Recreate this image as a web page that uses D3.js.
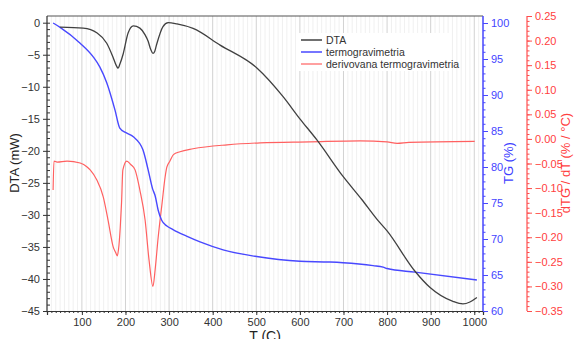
<!DOCTYPE html>
<html><head><meta charset="utf-8">
<script src="https://cdn.jsdelivr.net/npm/d3@7"></script>
<style>body{margin:0;background:#fff}svg{display:block;font-family:"Liberation Sans",Arial,sans-serif}</style>
</head><body><svg id="c" width="574" height="339"></svg>
<script>
// ---- data ----
const dtaT = [50,103,135,157,171,179,183,187,195,206,218,233,245,252,258,263,267,271,286,298,318,355,417,502,561,600,639,699,742,777,800,864,898,951,974,990,1006];
const dtaV = [-0.7,-0.85,-1.6,-3.2,-5.3,-6.7,-7.1,-6.5,-4.8,-1.6,-0.5,-0.85,-1.9,-2.9,-4.2,-4.8,-4.5,-3.5,-0.6,0,-0.2,-0.9,-3.5,-7.1,-11.5,-15.0,-18.3,-24.0,-27.6,-30.7,-32.5,-38.8,-41.3,-43.5,-43.9,-43.6,-42.9];
const tgT = [34,50,96,126,141,157,176,187,200,218,240,252,262,268,275,283,295,309,340,371,424,497,600,669,699,768,791,800,864,1006];
const tgV = [100,99.4,97.2,95.3,93.9,91.7,87.9,85.4,84.8,84.2,82.4,79.6,77,76.0,74.0,72.6,71.8,71.3,70.4,69.6,68.5,67.6,66.9,66.8,66.7,66.3,66.1,65.9,65.4,64.3];
const dtgT = [34,36,43,66,96,112,119,134,149,160,172,178,181,184,188,191,194,203,212,222,233,245,254,263,268,275,284,291,295,302,310,325,355,433,509,623,738,800,823,850,1001];
const dtgV = [-0.104,-0.045,-0.047,-0.045,-0.049,-0.057,-0.063,-0.083,-0.118,-0.165,-0.22,-0.232,-0.238,-0.225,-0.18,-0.13,-0.063,-0.045,-0.052,-0.063,-0.104,-0.165,-0.246,-0.300,-0.266,-0.2,-0.13,-0.077,-0.057,-0.045,-0.032,-0.026,-0.02,-0.012,-0.008,-0.006,-0.004,-0.006,-0.009,-0.007,-0.005];
const xTicks = [100,200,300,400,500,600,700,800,900,1000];
const dtaTicks = [-45,-40,-35,-30,-25,-20,-15,-10,-5,0];
const tgTicks = [60,65,70,75,80,85,90,95,100];
const dtgTicks = [-0.35,-0.30,-0.25,-0.20,-0.15,-0.10,-0.05,0.00,0.05,0.10,0.15,0.20,0.25];
const legendNames = ["DTA","termogravimetria","derivovana termogravimetria"];

const svg = d3.select("#c");
const L=47, R=483, T=16, B=311;
const x = d3.scaleLinear().domain([20,1020]).range([L,R]);
const yD = d3.scaleLinear().domain([-45,0]).range([B,22.7]);
const yT = d3.scaleLinear().domain([60,100]).range([B,23]);
const yG = d3.scaleLinear().domain([-0.35,0.25]).range([B,T]);
const cBlack="#404040", cBlue="#4848ff", cRed="#ff6060";

// grid
const minorX = d3.range(20,1021,10);
svg.append("g").selectAll("line").data(minorX.filter(v=>v%100!==0)).join("line")
 .attr("x1",d=>x(d)).attr("x2",d=>x(d)).attr("y1",T).attr("y2",B).attr("stroke","#ececec").attr("stroke-width",0.8);
svg.append("g").selectAll("line").data(xTicks).join("line")
 .attr("x1",d=>x(d)).attr("x2",d=>x(d)).attr("y1",T).attr("y2",B).attr("stroke","#d2d2d2").attr("stroke-width",1);

// top frame
svg.append("line").attr("x1",L).attr("x2",R).attr("y1",T).attr("y2",T).attr("stroke","#555").attr("stroke-width",1.2);

// bottom axis
const gx = svg.append("g").attr("transform",`translate(0,${B})`)
 .call(d3.axisBottom(x).tickValues(xTicks).tickSize(4).tickFormat(d3.format("d")));
gx.append("g").call(d3.axisBottom(x).tickValues(minorX).tickSize(2).tickFormat(""));
gx.selectAll("path.domain").attr("stroke","#333").attr("stroke-width",1.2);
gx.selectAll("line").attr("stroke","#333");
gx.selectAll("text").attr("font-size",11).attr("fill","#333");

// left axis
const gl = svg.append("g").attr("transform",`translate(${L},0)`)
 .call(d3.axisLeft(yD).tickValues(dtaTicks).tickSize(4).tickFormat(d3.format("d")));
gl.append("g").call(d3.axisRight(yD).tickValues(d3.range(-45,1,1)).tickSize(3).tickFormat(""));
gl.selectAll("path.domain").remove();
gl.append("line").attr("y1",T).attr("y2",B).attr("stroke","#333").attr("stroke-width",1.2);
gl.selectAll("line").attr("stroke","#333");
gl.selectAll("text").attr("font-size",11).attr("fill","#333");

// right blue axis
const gb = svg.append("g").attr("transform",`translate(${R},0)`)
 .call(d3.axisRight(yT).tickValues(tgTicks).tickSize(5).tickFormat(d3.format("d")));
gb.append("g").call(d3.axisRight(yT).tickValues(d3.range(60,101,1)).tickSize(2.5).tickFormat(""));
gb.selectAll("path.domain").remove();
gb.append("line").attr("y1",T).attr("y2",B).attr("stroke",cBlue).attr("stroke-width",1.5);
gb.selectAll("line").attr("stroke",cBlue);
gb.selectAll("text").attr("font-size",11).attr("fill","#4444ff");

// right red axis
const XR = 527;
const gr = svg.append("g").attr("transform",`translate(${XR},0)`)
 .call(d3.axisRight(yG).tickValues(dtgTicks).tickSize(5).tickFormat(d3.format(".2f")));
gr.append("g").call(d3.axisRight(yG).tickValues(d3.range(-35,26,1).map(v=>v/100)).tickSize(2.5).tickFormat(""));
gr.selectAll("path.domain").remove();
gr.append("line").attr("y1",T).attr("y2",B).attr("stroke","#ff4d4d").attr("stroke-width",1.2);
gr.selectAll("line").attr("stroke","#ff4d4d");
gr.selectAll("text").attr("font-size",11).attr("fill","#ff4040");

// axis titles
svg.append("text").attr("transform","translate(19,163) rotate(-90)").attr("text-anchor","middle")
 .attr("font-size",13).attr("fill","#222").text("DTA (mW)");
svg.append("text").attr("transform","translate(513,163) rotate(-90)").attr("text-anchor","middle")
 .attr("font-size",13).attr("fill","#4040ff").text("TG (%)");
svg.append("text").attr("transform","translate(570,163) rotate(-90)").attr("text-anchor","middle")
 .attr("font-size",13).attr("fill","#ff4040").text("dTG / dT (% / °C)");
svg.append("text").attr("x",265).attr("y",341).attr("text-anchor","middle")
 .attr("font-size",14).attr("fill","#222").text("T (C)");

// lines
const mk = (ys)=> d3.line().x(d=>x(d[0])).y(d=>ys(d[1])).curve(d3.curveMonotoneX);
svg.append("path").datum(d3.zip(dtgT,dtgV)).attr("d",mk(yG)).attr("fill","none").attr("stroke",cRed).attr("stroke-width",1.2);
svg.append("path").datum(d3.zip(tgT,tgV)).attr("d",mk(yT)).attr("fill","none").attr("stroke",cBlue).attr("stroke-width",1.4);
svg.append("path").datum(d3.zip(dtaT,dtaV)).attr("d",mk(yD)).attr("fill","none").attr("stroke",cBlack).attr("stroke-width",1.3);

// legend
const lg = svg.append("g");
lg.append("rect").attr("x",299).attr("y",33).attr("width",152).attr("height",38).attr("fill","#fff");
const lcol=[cBlack,cBlue,"#ff8080"];
legendNames.forEach((n,i)=>{
  const yy=40+i*12;
  lg.append("line").attr("x1",301).attr("x2",322).attr("y1",yy).attr("y2",yy).attr("stroke",lcol[i]).attr("stroke-width",1.5);
  lg.append("text").attr("x",326).attr("y",yy).attr("dy","0.35em").attr("font-size",10.5).attr("fill","#333").text(n);
});
</script></body></html>
